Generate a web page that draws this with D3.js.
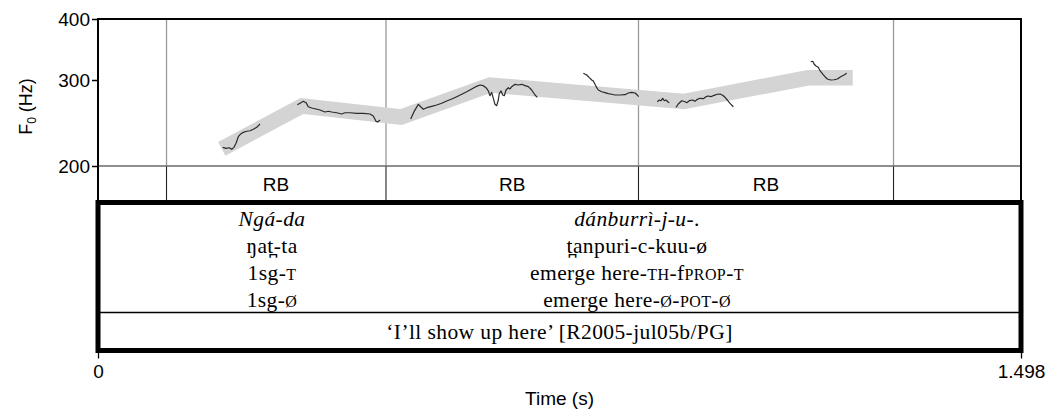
<!DOCTYPE html>
<html><head><meta charset="utf-8">
<script src="https://cdn.jsdelivr.net/npm/d3@7"></script>
<style>body{margin:0;background:#fff}svg{display:block}</style>
</head><body>
<svg id="c" width="1059" height="413"></svg>
<script>
// ---- data ----
const timeDomain = [0, 1.498];
const f0Domain = [200, 400];
const yTicks = [200, 300, 400];
const xTickValues = [0, 1.498];
const xTickLabels = ["0", "1.498"];
const boundaries = [0.1112, 0.4674, 0.8772, 1.2911];
const tierLabels = ["RB", "RB", "RB"];
const tierLabelTimes = [0.289, 0.6723, 1.084];
// stylised pitch (grey band)
const stylTime = [0.2008, 0.3311, 0.4918, 0.6362, 0.9503, 1.1523, 1.2249];
const stylHz = [216.9, 265.4, 252.0, 293.0, 271.1, 303.1, 303.1];
// measured F0 contour pieces [time, Hz]
const seg1 = [[0.2024,218.4],[0.2077,217.4],[0.2131,218.0],[0.2170,216.4],[0.2207,218.4],[0.2240,222.6],[0.2277,229.6],[0.2316,232.6],[0.2358,234.4],[0.2413,235.6],[0.2467,236.2],[0.2521,237.8],[0.2576,240.0],[0.2629,243.8]];
const seg2 = [[0.3235,267.0],[0.3278,268.8],[0.3332,271.3],[0.3376,269.6],[0.3413,264.5],[0.3468,262.9],[0.3522,262.0],[0.3603,260.4],[0.3684,258.0],[0.3738,258.9],[0.3793,258.0],[0.3874,257.1],[0.3955,255.6],[0.4009,257.1],[0.4090,257.1],[0.4199,256.4],[0.4306,256.4],[0.4415,255.6],[0.4468,253.2],[0.4512,246.9],[0.4540,246.1],[0.4577,248.4]];
const seg3 = [[0.5075,249.6],[0.5129,258.4],[0.5199,267.5],[0.5237,264.5],[0.5280,261.3],[0.5335,263.3],[0.5416,265.0],[0.5497,266.7],[0.5578,268.8],[0.5659,271.7],[0.5741,274.3],[0.5822,277.3],[0.5903,280.5],[0.5984,283.9],[0.6065,287.6],[0.6146,291.2],[0.6200,293.0],[0.6253,292.1],[0.6297,289.3],[0.6335,284.9],[0.6362,278.6],[0.6390,283.1],[0.6416,275.2],[0.6443,267.5],[0.6471,265.8],[0.6497,273.0],[0.6513,281.8],[0.6541,284.9],[0.6568,279.5],[0.6594,278.6],[0.6622,286.2],[0.6659,289.3],[0.6687,287.6],[0.6714,290.7],[0.6768,294.0],[0.6822,293.0],[0.6877,294.0],[0.6930,292.1],[0.6984,290.7],[0.7039,286.2],[0.7093,279.5],[0.7130,276.5]];
const seg4 = [[0.7877,309.7],[0.7932,307.2],[0.7974,303.3],[0.8013,300.0],[0.8039,298.6],[0.8066,294.0],[0.8094,289.3],[0.8120,286.2],[0.8175,283.9],[0.8229,282.6],[0.8282,281.3],[0.8337,280.5],[0.8391,279.5],[0.8472,279.5],[0.8553,279.9],[0.8607,282.2],[0.8662,283.1],[0.8716,282.2],[0.8753,279.5],[0.8776,277.3]];
const seg5 = [[0.9078,270.8],[0.9110,273.0],[0.9138,272.1],[0.9165,275.2],[0.9191,272.1],[0.9219,273.0],[0.9251,270.5],[0.9272,269.6]];
const seg6 = [[0.9381,263.8],[0.9418,267.9],[0.9473,272.1],[0.9527,270.8],[0.9555,269.6],[0.9597,272.1],[0.9652,273.0],[0.9689,271.3],[0.9727,273.9],[0.9771,275.2],[0.9824,274.7],[0.9868,277.3],[0.9905,278.2],[0.9944,277.3],[0.9998,279.1],[1.0051,280.5],[1.0095,280.8],[1.0139,279.1],[1.0176,276.5],[1.0214,273.0],[1.0258,268.8],[1.0311,264.5]];
const seg7 = [[1.1567,327.0],[1.1600,327.7],[1.1621,323.5],[1.1653,320.5],[1.1690,318.5],[1.1718,313.5],[1.1762,308.6],[1.1799,304.7],[1.1837,301.4],[1.1892,300.0],[1.1945,300.4],[1.1999,301.4],[1.2054,304.7],[1.2108,307.2],[1.2152,309.7]];
const segments = [seg1, seg2, seg3, seg4, seg5, seg6, seg7];
// interlinear gloss (each line: array of [text, smallcaps?, italic?])
const glossLeftTime = 0.2824;
const glossRightTime = 0.8748;
const glossLeft = [
  [["Ngá-da", false, true]],
  [["ŋat̪-ta", false, false]],
  [["1sg-", false, false], ["T", true, false]],
  [["1sg-", false, false], ["Ø", true, false]]
];
const glossRight = [
  [["dánburrì-j-u-", false, true], [".", false, false]],
  [["t̪anpuri-c-kuu-ø", false, false]],
  [["emerge here-", false, false], ["TH", true, false], ["-f", false, false], ["PROP", true, false], ["-", false, false], ["T", true, false]],
  [["emerge here-", false, false], ["Ø", true, false], ["-", false, false], ["POT", true, false], ["-", false, false], ["Ø", true, false]]
];
const translation = "‘I’ll show up here’ [R2005-jul05b/PG]";

// ---- layout ----
const L = 98, R = 1021, T = 19, PB = 166, TB = 200, BB = 350.5, SEP = 312.5;
const svg = d3.select("#c");
const x = d3.scaleLinear().domain(timeDomain).range([L, R]);
const y = d3.scaleLog().domain(f0Domain).range([PB, T]);
const sans = "'Liberation Sans', Arial, Helvetica, sans-serif";
const serif = "'Liberation Serif', 'Times New Roman', serif";

// vertical boundary lines in the plot (grey) and tier (dark)
svg.selectAll("line.bp").data(boundaries).join("line")
  .attr("x1", d => x(d)).attr("x2", d => x(d)).attr("y1", T).attr("y2", PB)
  .attr("stroke", "#9a9a9a").attr("stroke-width", 1.3);
svg.selectAll("line.bt").data(boundaries).join("line")
  .attr("x1", d => x(d)).attr("x2", d => x(d)).attr("y1", PB).attr("y2", TB)
  .attr("stroke", "#222").attr("stroke-width", 1.1);

// stylisation band
const bandLine = d3.line().x(d => x(d[0])).y(d => y(d[1]));
svg.append("path").datum(stylTime.map((t, i) => [t, stylHz[i]]))
  .attr("d", bandLine).attr("fill", "none").attr("stroke", "#d4d4d4")
  .attr("stroke-width", 15.5).attr("stroke-linejoin", "miter").attr("stroke-linecap", "butt");

// F0 contours
svg.selectAll("path.f0").data(segments).join("path")
  .attr("d", bandLine).attr("fill", "none").attr("stroke", "#2a2a2a")
  .attr("stroke-width", 1.2).attr("stroke-linejoin", "round");

// horizontal line at 200 Hz (top of tier)
svg.append("line").attr("x1", L).attr("x2", R).attr("y1", y(200)).attr("y2", y(200))
  .attr("stroke", "#6a6a6a").attr("stroke-width", 1.5);

// frame: top, left, right
svg.append("path").attr("d", `M${L},${TB} V${T} H${R} V${TB}`)
  .attr("fill", "none").attr("stroke", "#000").attr("stroke-width", 2);

// y axis ticks and labels
const yAxis = d3.axisLeft(y).tickValues(yTicks).tickFormat(d3.format("d")).tickSize(6).tickPadding(2);
const ya = svg.append("g").attr("transform", `translate(${L},0)`).call(yAxis);
ya.select(".domain").remove();
ya.selectAll(".tick line").attr("stroke", "#000").attr("stroke-width", 1.5);
ya.selectAll(".tick text").attr("font-family", sans).attr("font-size", 19).attr("fill", "#000").attr("dy", "0.36em");

// y label
const yl = svg.append("text").attr("transform", `translate(32,${(T + TB) / 2 - 3}) rotate(-90)`)
  .attr("text-anchor", "middle").attr("font-family", sans).attr("font-size", 18).attr("fill", "#000");
yl.append("tspan").text("F");
yl.append("tspan").attr("font-size", 12).attr("dy", 4).text("0");
yl.append("tspan").attr("dy", -4).text(" (Hz)");

// tier labels
svg.selectAll("text.tl").data(tierLabels).join("text")
  .attr("x", (d, i) => x(tierLabelTimes[i])).attr("y", 191)
  .attr("text-anchor", "middle").attr("font-family", sans).attr("font-size", 19).attr("fill", "#000")
  .text(d => d);

// thick box
svg.append("rect").attr("x", L).attr("y", 202.5).attr("width", R - L).attr("height", BB - 202.5)
  .attr("fill", "none").attr("stroke", "#000").attr("stroke-width", 5);
svg.append("line").attr("x1", L).attr("x2", R).attr("y1", SEP).attr("y2", SEP)
  .attr("stroke", "#000").attr("stroke-width", 1.3);

// gloss lines
const lineY = [226, 253, 280, 307];
function drawGloss(lines, t) {
  lines.forEach((parts, i) => {
    const tx = svg.append("text").attr("x", x(t)).attr("y", lineY[i]).attr("text-anchor", "middle")
      .attr("font-family", serif).attr("font-size", 21.5).attr("letter-spacing", 0.4).attr("fill", "#000");
    parts.forEach(p => {
      const s = tx.append("tspan").text(p[0]);
      if (p[1]) s.attr("font-size", 16);
      if (p[2]) s.attr("font-style", "italic");
    });
  });
}
drawGloss(glossLeft, glossLeftTime);
drawGloss(glossRight, glossRightTime);
svg.append("text").attr("x", (L + R) / 2).attr("y", 339).attr("text-anchor", "middle")
  .attr("font-family", serif).attr("font-size", 21.5).attr("letter-spacing", 0.4).attr("fill", "#000").text(translation);

// x axis
const xAxis = d3.axisBottom(x).tickValues(xTickValues).tickFormat((d, i) => xTickLabels[i]).tickSize(6).tickPadding(6);
const xa = svg.append("g").attr("transform", `translate(0,${BB + 2})`).call(xAxis);
xa.select(".domain").remove();
xa.selectAll(".tick line").attr("stroke", "#000").attr("stroke-width", 1.3);
xa.selectAll(".tick text").attr("font-family", sans).attr("font-size", 19).attr("fill", "#000");
svg.append("text").attr("x", (L + R) / 2).attr("y", 405).attr("text-anchor", "middle")
  .attr("font-family", sans).attr("font-size", 19).attr("fill", "#000").text("Time (s)");
</script>
</body></html>
